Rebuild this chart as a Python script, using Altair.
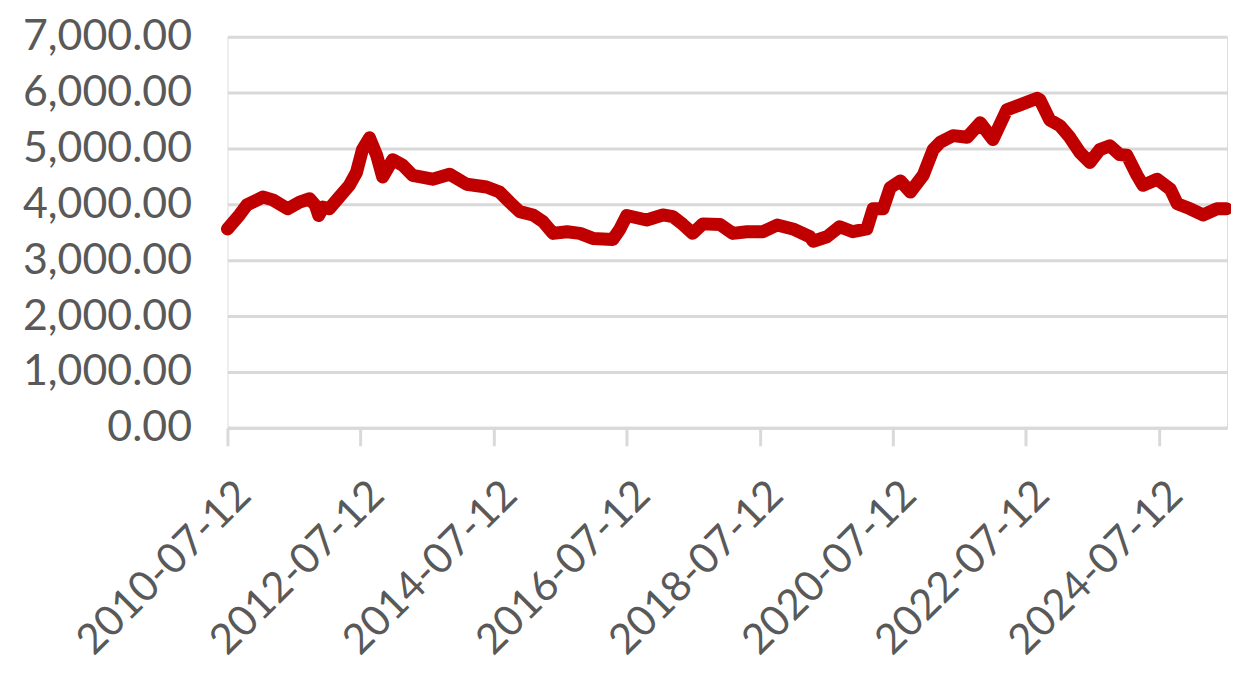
import altair as alt
import pandas as pd

dates = [
    "2010-07-12", "2010-09-16", "2010-10-27", "2011-01-22", "2011-03-18", "2011-06-07",
    "2011-08-12", "2011-10-06", "2011-11-07", "2011-11-25", "2011-12-20", "2012-01-22",
    "2012-03-17", "2012-05-11", "2012-06-19", "2012-07-22", "2012-08-30", "2012-10-08",
    "2012-11-10", "2013-01-04", "2013-02-28", "2013-04-23", "2013-08-11", "2013-11-12",
    "2014-02-14", "2014-06-03", "2014-08-14", "2014-10-08", "2014-12-02", "2015-02-13",
    "2015-04-09", "2015-06-03", "2015-08-19", "2015-10-29", "2016-01-08", "2016-04-26",
    "2016-06-03", "2016-07-12", "2016-10-29", "2017-01-26", "2017-03-22", "2017-05-16",
    "2017-07-09", "2017-09-02", "2017-12-05", "2018-02-14", "2018-05-02", "2018-07-30",
    "2018-10-16", "2019-01-10", "2019-04-13", "2019-05-01", "2019-07-16", "2019-09-24",
    "2019-12-05", "2020-02-20", "2020-03-25", "2020-05-19", "2020-06-27", "2020-08-22",
    "2020-10-16", "2020-12-25", "2021-02-18", "2021-03-29", "2021-06-07", "2021-08-23",
    "2021-11-03", "2022-01-12", "2022-03-29", "2022-06-10", "2022-09-12", "2022-09-27",
    "2022-11-20", "2023-01-14", "2023-03-10", "2023-05-04", "2023-06-28", "2023-08-22",
    "2023-10-16", "2023-12-09", "2024-01-17", "2024-03-13", "2024-04-15", "2024-07-01",
    "2024-09-12", "2024-10-20", "2024-12-30", "2025-03-10", "2025-05-26", "2025-07-18",
]
values = [
    3560, 3810, 3990, 4130, 4080, 3920,
    4040, 4100, 3980, 3800, 3950, 3920,
    4130, 4340, 4570, 4980, 5190, 4880,
    4490, 4800, 4700, 4520, 4450, 4540,
    4360, 4310, 4220, 4040, 3870, 3810,
    3690, 3480, 3510, 3480, 3390, 3370,
    3550, 3800, 3720, 3810, 3780, 3640,
    3480, 3650, 3640, 3480, 3510, 3510,
    3630, 3560, 3420, 3340, 3420, 3600,
    3510, 3560, 3920, 3920, 4300, 4420,
    4220, 4520, 4980, 5110, 5230, 5200,
    5460, 5160, 5690, 5780, 5900, 5870,
    5510, 5410, 5200, 4930, 4750, 4980,
    5050, 4890, 4880, 4520, 4340, 4450,
    4270, 4010, 3920, 3810, 3920, 3920,
]
tick_years = [2010, 2012, 2014, 2016, 2018, 2020, 2022, 2024]
y_ticks = [0, 1000, 2000, 3000, 4000, 5000, 6000, 7000]

df = pd.DataFrame({"date": dates, "value": values})

FONT = "Lato"
GRAY = "#595959"

x_axis = alt.Axis(
    values=[alt.DateTime(year=y, month=7, date=12, utc=True) for y in tick_years],
    labelExpr="utcFormat(datum.value, '%Y-%m-%d')",
    labelAngle=-45,
    labelAlign="right",
    labelBaseline="top",
    labelPadding=28,
    labelOffset=2,
    labelFont=FONT,
    labelFontSize=42,
    labelColor=GRAY,
    labelLimit=0,
    labelOverlap=False,
    labelBound=False,
    labelFlush=False,
    grid=False,
    domainColor="#d9d9d9",
    domainWidth=3,
    tickColor="#d9d9d9",
    tickWidth=3,
    tickSize=18,
    title=None,
)

y_axis = alt.Axis(
    values=y_ticks,
    format=",.2f",
    labelFont=FONT,
    labelFontSize=43,
    labelColor=GRAY,
    labelPadding=36,
    labelLimit=0,
    ticks=False,
    domain=False,
    grid=True,
    gridColor="#d9d9d9",
    gridWidth=3,
    title=None,
)

chart = (
    alt.Chart(df)
    .mark_line(color="#c00000", strokeWidth=13, strokeJoin="round", strokeCap="round")
    .encode(
        x=alt.X(
            "date:T",
            scale=alt.Scale(
                type="utc",
                domain=[
                    alt.DateTime(year=2010, month=7, date=12, utc=True),
                    alt.DateTime(year=2025, month=7, date=20, utc=True),
                ],
            ),
            axis=x_axis,
        ),
        y=alt.Y("value:Q", scale=alt.Scale(domain=[0, 7000], nice=False), axis=y_axis),
    )
    .properties(
        width=1002,
        height=392,
        autosize=alt.AutoSizeParams(type="none"),
        padding={"left": 220, "top": 28, "right": 4, "bottom": 250},
    )
    .configure_view(stroke=None)
    .configure(background="white")
)

chart.save("out.html", embed_options={"renderer": "svg", "actions": False})
